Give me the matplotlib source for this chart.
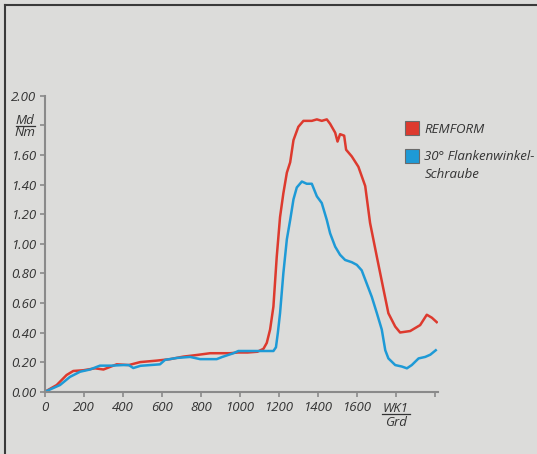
import matplotlib
matplotlib.use("Agg")
import matplotlib.pyplot as plt
from matplotlib.patches import Rectangle
from matplotlib.lines import Line2D

# ---- data ----
remform_x = [0, 60, 111, 145, 197, 257, 300, 368, 430, 488, 573, 642, 710, 779, 847, 950,
             990, 1040, 1090, 1121, 1138, 1155, 1172, 1189, 1206, 1223, 1241, 1258, 1275,
             1300, 1326, 1369, 1395, 1420, 1446, 1463, 1489, 1501, 1514, 1535, 1545, 1574,
             1608, 1643, 1668, 1703, 1737, 1762, 1797, 1822, 1874, 1925, 1959, 1985, 2010]
remform_y = [0.0, 0.045, 0.113, 0.14, 0.145, 0.158, 0.15, 0.185, 0.18, 0.20, 0.21, 0.22, 0.237,
             0.248, 0.26, 0.26, 0.265, 0.265, 0.27, 0.29, 0.33, 0.42, 0.575, 0.91, 1.18, 1.34,
             1.48, 1.55, 1.70, 1.79, 1.83, 1.83, 1.84, 1.83, 1.84, 1.81, 1.75, 1.69, 1.74, 1.73,
             1.635, 1.59, 1.52, 1.39, 1.14, 0.91, 0.69, 0.53, 0.44, 0.40, 0.41, 0.45, 0.52, 0.50, 0.47]

flank_x = [0, 77, 128, 180, 231, 282, 340, 402, 430, 453, 490, 590, 616, 676, 744, 796, 881,
           910, 967, 992, 1040, 1087, 1172, 1185, 1195, 1206, 1223, 1241, 1258, 1275, 1292,
           1318, 1343, 1369, 1395, 1420, 1446, 1463, 1489, 1514, 1540, 1574, 1600, 1625, 1651,
           1677, 1703, 1728, 1746, 1762, 1797, 1831, 1857, 1882, 1917, 1951, 1977, 2005]
flank_y = [0.0, 0.045, 0.10, 0.135, 0.15, 0.176, 0.176, 0.18, 0.18, 0.16, 0.175, 0.185, 0.215,
           0.228, 0.235, 0.22, 0.22, 0.235, 0.26, 0.275, 0.275, 0.275, 0.275, 0.30, 0.40, 0.53,
           0.80, 1.03, 1.16, 1.30, 1.38, 1.42, 1.405, 1.405, 1.32, 1.275, 1.16, 1.07, 0.98,
           0.925, 0.89, 0.875, 0.857, 0.82, 0.73, 0.64, 0.53, 0.42, 0.28, 0.225, 0.18, 0.17,
           0.158, 0.18, 0.225, 0.235, 0.25, 0.28]

x_ticks = [0, 200, 400, 600, 800, 1000, 1200, 1400, 1600, 1800, 2000]
x_labels = ["0", "200", "400", "600", "800", "1000", "1200", "1400", "1600", "", ""]
y_ticks = [0.0, 0.2, 0.4, 0.6, 0.8, 1.0, 1.2, 1.4, 1.6, 1.8, 2.0]
y_labels = ["0.00", "0.20", "0.40", "0.60", "0.80", "1.00", "1.20", "1.40", "1.60", "", "2.00"]

series_names = [["REMFORM"], ["30° Flankenwinkel-", "Schraube"]]
red = "#dd3a2e"
blue = "#1e9ad6"
bg = "#dcdcda"
txt = "#333333"
axc = "#8a8a8a"

plt.rcParams['font.family'] = ['Open Sans', 'DejaVu Sans']
plt.rcParams['font.style'] = 'italic'

W, H = 537, 454
def fx(px):
    return px / W
def fy(py):
    return 1 - py / H

fig = plt.figure(figsize=(5.37, 4.54), dpi=100, facecolor=bg)
ax = fig.add_axes([fx(45), fy(391.7), (437.7-45)/W, (391.7-95.7)/H])
ax.set_facecolor(bg)

ax.plot(remform_x, remform_y, color=red, lw=1.8, solid_joinstyle='round')
ax.plot(flank_x, flank_y, color=blue, lw=1.8, solid_joinstyle='round')

ax.set_xlim(0, 2015)
ax.set_ylim(0, 2.0)
ax.set_xticks(x_ticks)
ax.set_xticklabels(x_labels)
ax.set_yticks(y_ticks)
ax.set_yticklabels(y_labels)
for s in ['top', 'right']:
    ax.spines[s].set_visible(False)
for s in ['left', 'bottom']:
    ax.spines[s].set_color(axc)
    ax.spines[s].set_linewidth(1.5)
ax.tick_params(axis='both', colors=axc, length=3.5, width=1.2, labelcolor=txt,
               labelsize=9.5, pad=3)
for lab in ax.get_xticklabels() + ax.get_yticklabels():
    lab.set_fontstyle('italic')

# unit labels (fractions)
fs = 9.5
fig.text(fx(25), fy(124), "Md", ha='center', va='baseline', fontsize=fs, color=txt, style='italic')
fig.text(fx(25), fy(136.5), "Nm", ha='center', va='baseline', fontsize=fs, color=txt, style='italic')
fig.add_artist(Line2D([fx(16), fx(35)], [fy(125.8), fy(125.8)], color=txt, lw=0.9))

fig.text(fx(396), fy(412), "WK1", ha='center', va='baseline', fontsize=fs, color=txt, style='italic')
fig.text(fx(396), fy(425.5), "Grd", ha='center', va='baseline', fontsize=fs, color=txt, style='italic')
fig.add_artist(Line2D([fx(382), fx(410)], [fy(413.8), fy(413.8)], color=txt, lw=0.9))

# legend
for i, (lines, col) in enumerate(zip(series_names, [red, blue])):
    ytop = [121, 149][i]
    base = [132.7, 160][i]
    fig.add_artist(Rectangle((fx(404.5), fy(ytop + 14)), 14.5/W, 14/H,
                             facecolor=col, edgecolor="#6a6a6a", lw=0.8))
    for j, line in enumerate(lines):
        fig.text(fx(424.3), fy(base + 18.3 * j), line, ha='left', va='baseline',
                 fontsize=fs, color=txt, style='italic')

# frame lines
fig.add_artist(Line2D([fx(5), 1], [fy(5), fy(5)], color="#3a3a3a", lw=1.5))
fig.add_artist(Line2D([fx(5), fx(5)], [0, fy(5)], color="#3a3a3a", lw=1.5))

fig.savefig("out.png", dpi=100, facecolor=bg)
